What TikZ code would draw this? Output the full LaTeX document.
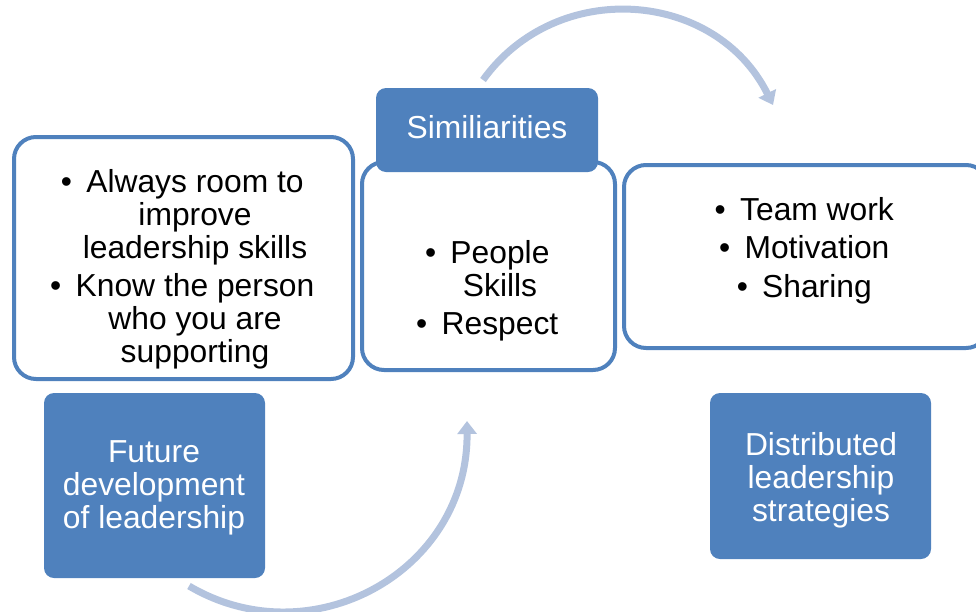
\documentclass[tikz,border=0pt]{standalone}
\usepackage{fontspec}
\setmainfont{Liberation Sans}
\usetikzlibrary{arrows.meta}
\definecolor{accent}{HTML}{4F81BD}
\definecolor{arrowc}{HTML}{B3C3DE}
\begin{document}
\begin{tikzpicture}[x=1pt,y=-1pt,
  wbox/.style={draw=accent, line width=4pt, fill=white, rounded corners=22pt, inner sep=0pt},
  bbox/.style={fill=accent, rounded corners=10pt, inner sep=0pt},
  body/.style={font=\fontsize{31.8}{33}\selectfont, align=center, inner sep=0pt, anchor=north},
  light/.style={body, text=white},
  flow/.style={draw=arrowc, line width=7pt, -{Triangle[width=19pt,length=13pt]}}]
\useasboundingbox (0,0) rectangle (976,611);
% connectors
\coordinate (t1) at (483,80);
\coordinate (t2) at (773,105);
\coordinate (b1) at (189,586);
\coordinate (b2) at (467,421);
\draw[flow] (t1) .. controls (557,-23) and (716,-10) .. (t2);
\draw[flow] (b1) .. controls (311,658) and (468,572) .. (b2);
% white boxes
\node[wbox, minimum width=339pt, minimum height=242pt] (leftbox) at (183.5,258) {};
\node[wbox, minimum width=253pt, minimum height=208pt] (midbox) at (488.5,266) {};
\node[wbox, minimum width=364pt, minimum height=183pt] (rightbox) at (806,256.5) {};
% blue boxes
\node[bbox, minimum width=222pt, minimum height=84pt] (sim) at (487,130) {};
\node[bbox, minimum width=221pt, minimum height=185pt] (future) at (154.5,485.5) {};
\node[bbox, minimum width=221pt, minimum height=166pt] (distr) at (820.5,476) {};
% texts
\node[body] (lefttext) at (195,169) {\llap{•\hspace{0.45em}}Always room to\\ improve\\ leadership skills\\[5.5pt] \llap{•\hspace{0.45em}}Know the person\\ who you are\\ supporting};
\node[body] (midtext) at (500,240) {\llap{•\hspace{0.45em}}People\\ Skills\\[5.5pt] \llap{•\hspace{0.45em}}Respect};
\node[body] (righttext) at (817,197) {\llap{•\hspace{0.45em}}Team work\\[5.5pt] \llap{•\hspace{0.45em}}Motivation\\[5.5pt] \llap{•\hspace{0.45em}}Sharing};
\node[light] (simtext) at (487,115) {Similiarities};
\node[light] (futuretext) at (154,440) {Future\\ development\\ of leadership};
\node[light] (distrtext) at (821,432) {Distributed\\ leadership\\ strategies};
\end{tikzpicture}
\end{document}
